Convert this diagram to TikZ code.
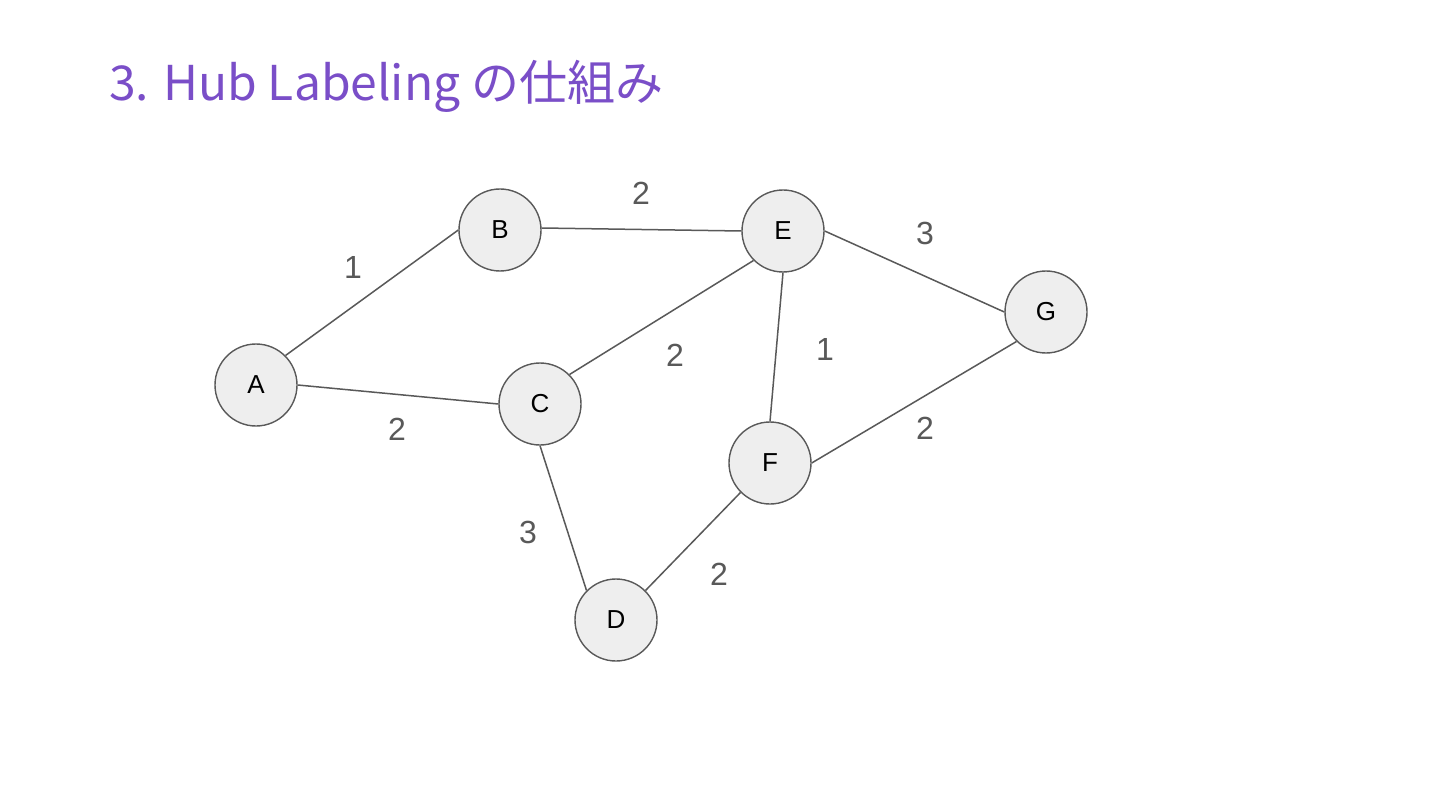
\documentclass[tikz,border=0pt]{standalone}
\usepackage{fontspec}
\setmainfont{Liberation Sans}
\newfontfamily\jpfont{Noto Sans CJK JP}
\definecolor{edgegray}{HTML}{595959}
\definecolor{nodefill}{HTML}{EEEEEE}
\definecolor{titlepurple}{HTML}{7A4EC8}
\begin{document}
\begin{tikzpicture}[x=1pt,y=-1pt,
  vtx/.style={circle,draw=edgegray,fill=nodefill,line width=1.4pt,minimum size=82pt,inner sep=0pt,font=\fontsize{26}{26}\selectfont,text=black},
  edge/.style={draw=edgegray,line width=1.5pt},
  wt/.style={text=edgegray,font=\fontsize{32}{32}\selectfont,inner sep=0pt}]
\useasboundingbox[fill=white] (0,0) rectangle (1440,810);
\node[anchor=base west,inner sep=0pt,text=titlepurple,font=\jpfont\fontsize{48}{48}\selectfont] (title) at (109,101) {3. Hub Labeling の仕組み};
\node[vtx] (A) at (256,385) {A};
\node[vtx] (B) at (500,230) {B};
\node[vtx] (E) at (783,231) {E};
\node[vtx] (G) at (1046,312) {G};
\node[vtx] (C) at (540,404) {C};
\node[vtx] (F) at (770,463) {F};
\node[vtx] (D) at (616,620) {D};
\draw[edge] (A.north east) -- (B.west);
\draw[edge] (A.east) -- (C.west);
\draw[edge] ([yshift=2pt]B.east) -- (E.west);
\draw[edge] (C.north east) -- (E.south west);
\draw[edge] (E.south) -- (F.north);
\draw[edge] (E.east) -- (G.west);
\draw[edge] (C.south) -- (D.north west);
\draw[edge] (D.north east) -- (F.south west);
\draw[edge] (F.east) -- (G.south west);
\node[wt] (wAB) at (353,267) {1};
\node[wt] (wBE) at (641,193) {2};
\node[wt] (wEG) at (925,233) {3};
\node[wt] (wCE) at (675,355) {2};
\node[wt] (wEF) at (825,349) {1};
\node[wt] (wAC) at (397,429) {2};
\node[wt] (wFG) at (925,428) {2};
\node[wt] (wCD) at (528,532) {3};
\node[wt] (wDF) at (719,574) {2};
\end{tikzpicture}
\end{document}
